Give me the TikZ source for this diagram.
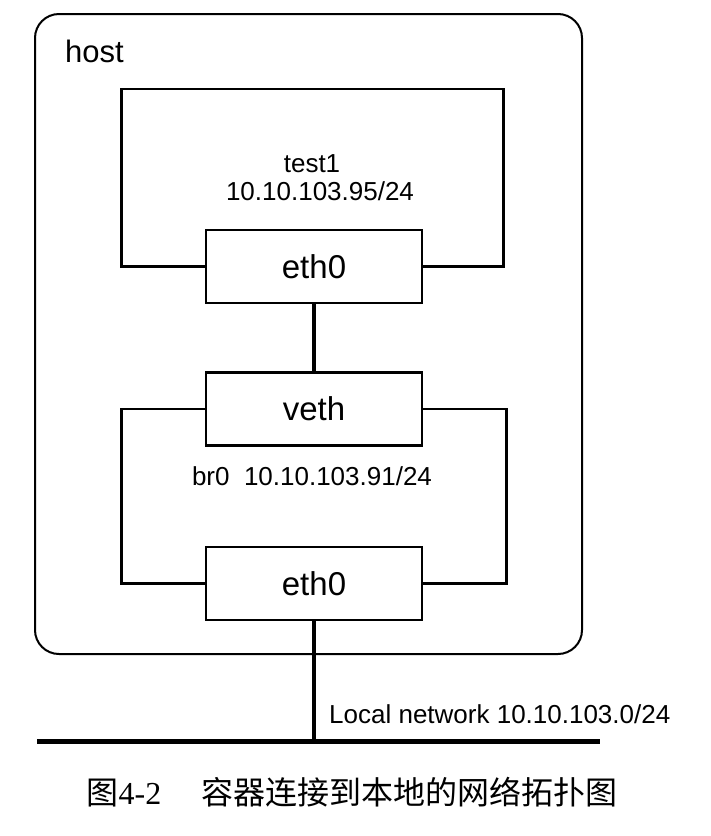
\documentclass[tikz,border=0pt]{standalone}
\usepackage{fontspec}
\setmainfont{Liberation Sans}
\newfontfamily\cjk{Noto Sans CJK SC}
\newfontfamily\capserif{Liberation Serif}
\begin{document}
\begin{tikzpicture}[x=1pt,y=-1pt,
  hostbox/.style={draw, line width=2pt, rounded corners=24pt, minimum width=547pt, minimum height=640pt, inner sep=0pt},
  ifbox/.style={draw, fill=white, line width=2.7pt, minimum width=216pt, minimum height=73pt, inner sep=0pt, font=\fontsize{33}{39}\selectfont},
  frame/.style={line width=2.7pt},
  link/.style={line width=4pt},
  lan/.style={line width=5pt},
  lbl/.style={inner sep=0pt, font=\fontsize{26}{31}\selectfont}]
\useasboundingbox (0,0) rectangle (711,836);
\node[hostbox] (host) at (308.5,334) {};
\node[inner sep=0pt, anchor=base west, font=\fontsize{31}{37}\selectfont] (hostlbl) at (65,62) {host};
% test1 container
\node[ifbox] (eth0a) at (314,266.5) {eth0};
\draw[frame] (eth0a.west) -- ++(-83,0) -- ++(0,-177.5) -- ++(382,0) -- ++(0,177.5) -- (eth0a.east);
\node[lbl, anchor=base] (test1) at (312,172) {test1};
\node[lbl, anchor=base] (ip1) at (320,200) {10.10.103.95/24};
% bridge
\node[ifbox] (veth) at (314,409) {veth};
\node[ifbox] (eth0b) at (314,583.5) {eth0};
\draw[frame] (veth.west) -- ++(-83,0) |- (eth0b.west);
\draw[frame] (veth.east) -- ++(83,0) |- (eth0b.east);
\node[lbl, anchor=base] (br0) at (312,485) {br0\ \ 10.10.103.91/24};
\draw[link] (eth0a.south) -- (veth.north);
% local network
\coordinate (lanL) at (37,741);
\coordinate (lanR) at (600,741);
\draw[lan] (lanL) -- (lanR);
\draw[link] (eth0b.south) -- (eth0b.south |- lanL);
\node[lbl, anchor=base west] (lanlbl) at (329,723) {Local network 10.10.103.0/24};
% caption
\node[inner sep=0pt, anchor=center] (cap) at (352,792) {\fontsize{32}{38}\selectfont\cjk 图\capserif 4-2\hspace{40pt}\cjk 容器连接到本地的网络拓扑图};
\end{tikzpicture}
\end{document}
